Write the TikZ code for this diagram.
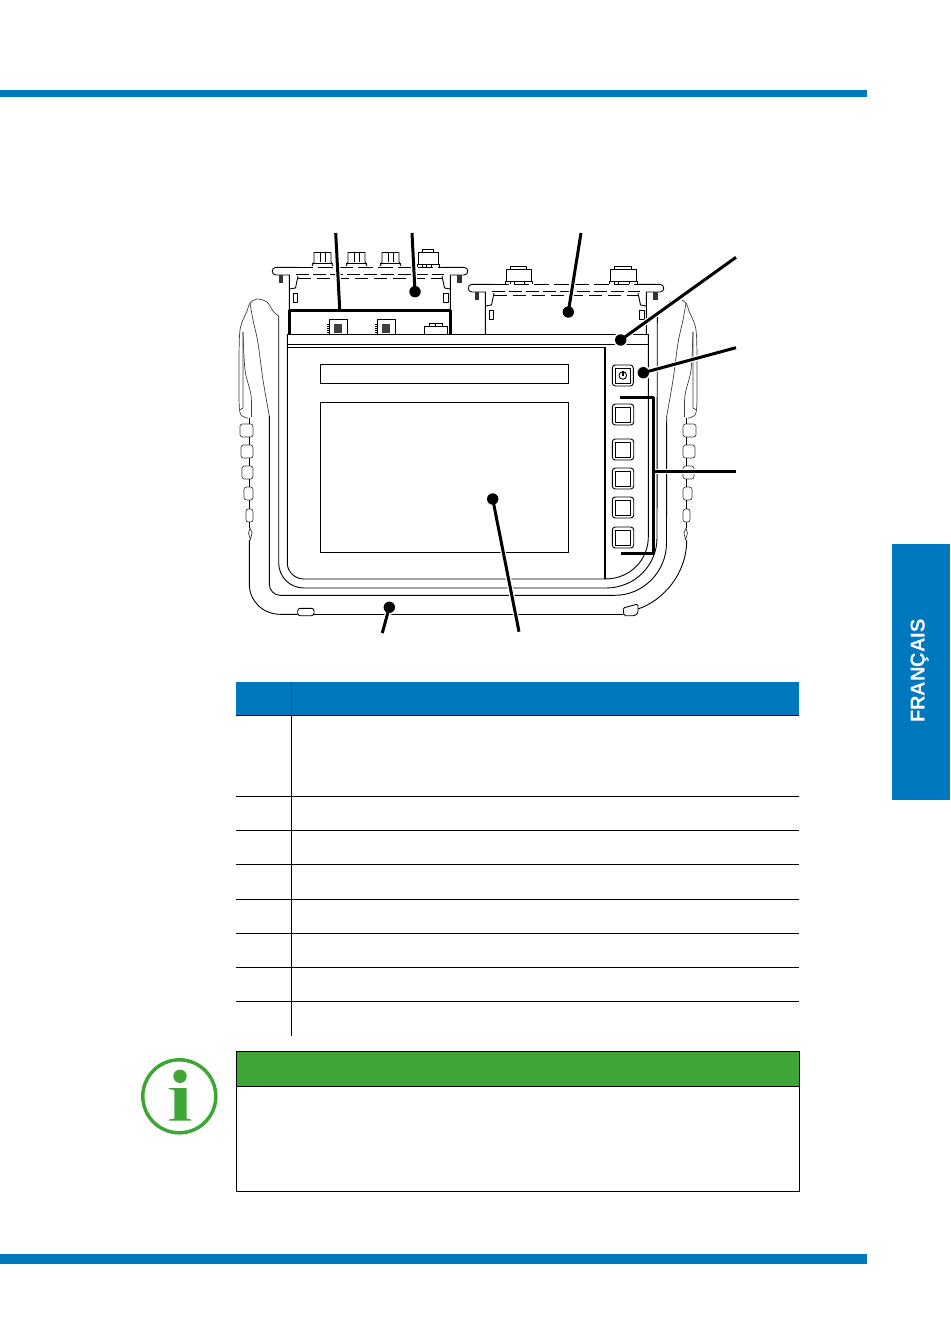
\documentclass[tikz,border=0pt]{standalone}
\usepackage{fontspec}
\setmainfont{Liberation Sans}
\definecolor{tabblue}{HTML}{0078BF}
\definecolor{notegreen}{HTML}{3FA535}
\tikzset{
 thinl/.style={line width=0.9pt},
 greyl/.style={line width=0.7pt,draw=black!75},
 leader/.style={line width=3pt},
 halo/.style={line width=5.5pt,draw=white},
 rowl/.style={line width=0.8pt},
 screwf/.style={fill=black!80},
}
% one knob on the top edge
\newcommand{\knob}[1]{
 \draw[thinl] (#1,266)--(#1+2,262)--(#1+2,252.5)--(#1+19,252.5)--(#1+19,262)--(#1+21,266);
 \draw[thinl] (#1+8,252.5)--(#1+8,262) (#1+13,252.5)--(#1+13,262) (#1,263)--(#1+21,263);
}
% one socket on the top edge
\newcommand{\jack}[3]{
 \draw[thinl] (#1+5,#2+3.5)--(#1+5,#2)--(#1+#3-6,#2)--(#1+#3-6,#2+3.5);
 \draw[thinl] (#1+1,#2+15)--(#1+1,#2+3.5)--(#1+#3-1,#2+3.5)--(#1+#3-1,#2+15);
 \draw[thinl] (#1,#2+18)--(#1,#2+15)--(#1+#3,#2+15)--(#1+#3,#2+18);
 \draw[thinl] (#1+5,#2+15)--(#1+5,#2+18) (#1+9,#2+15)--(#1+9,#2+18) (#1+#3-8,#2+15)--(#1+#3-8,#2+18);
}
% one socket on the inner panel
\newcommand{\port}[1]{
 \draw[thinl] (#1,334)--(#1,319.5)--(#1+18,319.5)--(#1+18,334);
 \fill[black!75] (#1+5,324) rectangle (#1+13,333);
 \draw[line width=1.6pt,dash pattern=on 1.2pt off 0.8pt] (#1-1,324)--(#1-1,333) (#1+18.5,324)--(#1+18.5,333);
}
\begin{document}
\begin{tikzpicture}[x=1pt,y=-1pt,line join=round,line cap=butt]
 \useasboundingbox (0,0) rectangle (950,1343);
 \fill[white] (0,0) rectangle (950,1343);
 \fill[tabblue] (0,90) rectangle (867,97);
 \fill[tabblue] (0,1254) rectangle (867,1264);
 \fill[tabblue] (892,544) rectangle (950,800);
 \node[rotate=90,text=white,font=\fontsize{20}{20}\selectfont\bfseries] (tablabel) at (919.8,671) {FRANÇAIS};
 % modules
 \foreach \dx/\dy in {0/0,196/17}{
 \begin{scope}[shift={(\dx,\dy)}]
 \draw[thinl] (298,267.3)--(276,267.3) .. controls (271,267.3) and (271,275) .. (276,275)--(289.3,275)--(289.3,{334-\dy});
 \draw[thinl] (442,267.3)--(464,267.3) .. controls (469,267.3) and (469,275) .. (464,275)--(450.3,275)--(450.3,{334-\dy});
 \draw[thinl,dash pattern=on 15pt off 5pt] (298,267.3)--(442,267.3);
 \draw[line width=1.5pt,dash pattern=on 13pt off 4pt] (296,274.6)--(444,274.6);
 \draw[thinl,dash pattern=on 13pt off 6pt] (298,278.2)--(442,278.2);
 \draw[thinl] (298,276)--(295.5,288)--(289.3,289) (442,276)--(444.5,288)--(450.3,289);
 \fill[screwf] (278.5,275) rectangle (283,282.5);
 \fill[screwf] (457,275) rectangle (461.5,282.5);
 \draw[thinl] (293,293) rectangle (297.5,302.5);
 \draw[thinl] (443.5,293) rectangle (448,302.5);
 \end{scope}}
 \foreach \x in {312,346,380}
 \knob{\x}
 \jack{417}{249}{22}
 \jack{505}{266}{27}
 \jack{609.5}{266}{28}
 \port{329}
 \port{377}
 \draw[thinl] (424,334)--(424,326)--(429,326)--(429,323)--(442,323)--(442,326)--(447,326)--(447,334);
 \draw[thinl] (429,326)--(442,326) (435,323)--(435,326);
 % front panel
 \draw[thinl] (287.3,334.3)--(648.5,334.3);
 \draw[thinl] (287.3,344.3)--(648.5,344.3);
 \draw[thinl] (287.3,347.3)--(605,347.3);
 \draw[thinl] (287.3,334.3)--(287.3,563) .. controls (287.3,572) and (295,579) .. (304,579)--(605,579) .. controls (630,579) and (648.3,560) .. (648.3,537)--(648.3,334.3);
 \draw[line width=1.4pt] (605,347.3)--(605,579);
 \draw[thinl] (278.7,316)--(278.7,563) .. controls (278.7,577) and (290,588) .. (304,588)--(606,588) .. controls (635,588) and (657,565) .. (657,538)--(657.3,316);
 \draw[thinl] (269.3,416)--(269.3,584) .. controls (269.3,590) and (274,595.3) .. (280,595.3)--(615,595.3) .. controls (643,595.3) and (666.5,572) .. (666.5,543)--(666.7,416);
 \draw[thinl] (249.3,540)--(249.3,584) .. controls (249.3,601) and (263,614.3) .. (280,614.3)--(297.7,614.3);
 \draw[thinl] (314,614.3)--(623,614.3);
 \draw[thinl] (638,609) .. controls (662,601) and (686.7,575) .. (686.7,540);
 \draw[thinl,rounded corners=2.5pt] (297.7,608.3) rectangle (314,615.7);
 \draw[thinl,rounded corners=1.5pt] (623,608)--(638,604)--(638,613)--(635,615.7)--(624,615.7)--cycle;
 % screen
 \draw[thinl] (320.3,364.3) rectangle (568.7,383.3);
 \draw[thinl] (320.3,402.5) rectangle (568.7,552.3);
 % handles
 \foreach \sx/\sk in {0/1,936/-1}{
 \begin{scope}[shift={(\sx,0)},xscale=\sk]
 \draw[greyl] plot[smooth] coordinates {(278.7,316) (273,311) (267,302) (257,299) (250,303) (247,311) (240,330) (239,370) (239.5,410) (244,417) (248,418)};
 \draw[greyl] plot[smooth] coordinates {(250,303) (253,320) (258,343) (263,380) (269.3,416)};
 \draw[greyl] (243,332)--(243,408)--(239.5,410);
 \draw[greyl] plot[smooth] coordinates {(243,332) (245,370) (251,395) (251.5,417)};
 \foreach \bx/\bw/\by in {240/13/424,241/12/445,242/11/466,244/9/487,246/7/509}
 \draw[greyl,rounded corners=2.5pt] (\bx,\by) rectangle (\bx+\bw,\by+13);
 \draw[greyl] (248.5,533)--(250,528)--(252,533)--(250.5,540)--cycle;
 \draw[thinl] (249.5,418)--(249.5,424) (249.5,437)--(249.5,445) (249.5,458)--(249.5,466) (249.5,479)--(249.5,487) (249.5,500)--(249.5,509) (249.5,522)--(249.5,528);
 \end{scope}}
 % buttons
 \draw[thinl,rounded corners=3pt] (612.3,365) rectangle (633.3,386);
 \draw[thinl] (615,368) rectangle (630.7,383);
 \draw[line width=0.9pt] (622.8,375.5) circle (3.8);
 \draw[line width=1.6pt] (622.8,370.8)--(622.8,375.5);
 \foreach \by in {404,439,468,497,527}{
 \draw[thinl,rounded corners=3pt] (612.3,\by) rectangle (633.7,\by+21);
 \draw[thinl] (615.3,\by+3) rectangle (630.7,\by+18);
 }
 % table
 \fill[tabblue] (236,682) rectangle (799,715);
 \draw[line width=0.8pt,tabblue!75!black] (291,682)--(291,715);
 \foreach \y in {715,796,830,864,899,933,967,1001}
 \draw[rowl] (236,\y+0.5)--(799,\y+0.5);
 \draw[rowl] (291,715)--(291,1035.5);
 % note
 \fill[notegreen] (236.5,1051.5) rectangle (799.5,1086);
 \draw[rowl] (236.5,1051.5) rectangle (799.5,1191);
 \draw[rowl] (236.5,1086)--(799.5,1086);
 \draw[notegreen,line width=3.5pt] (179.3,1096.3) circle (36.5);
 \fill[notegreen] (180,1076.3) circle (6.7);
 \fill[notegreen] (168.5,1088)--(186.7,1088)--(186.7,1118.5)--(191,1119.5)--(191,1120.5)--(169,1120.5)--(169,1119.5)--(174.3,1118.5)--(174.3,1090)--(168.5,1089)--cycle;
 % leaders
 \coordinate (endA) at (335.7,233);
 \coordinate (dotA) at (339.7,309);
 \coordinate (endB) at (412,233);
 \coordinate (dotB) at (415,291.7);
 \coordinate (endC) at (581,233);
 \coordinate (dotC) at (568.3,312);
 \coordinate (endD) at (736,257.3);
 \coordinate (dotD) at (620.7,340);
 \coordinate (endE) at (736,347.7);
 \coordinate (dotE) at (643.3,372.7);
 \coordinate (endF) at (736,471.3);
 \coordinate (dotF) at (653.3,471.3);
 \coordinate (endG) at (519,631.7);
 \coordinate (dotG) at (492.7,499);
 \coordinate (endH) at (382.3,633);
 \coordinate (dotH) at (389.3,607.3);
 \foreach \a/\b in {endA/dotA,endB/dotB,endC/dotC,endD/dotD,endE/dotE,endF/dotF,endG/dotG,endH/dotH}
 \draw[halo] (\a)--(\b);
 \foreach \d in {dotB,dotC,dotD,dotE,dotG,dotH}
 \fill[white] (\d) circle (7.5);
 \foreach \a/\b in {endA/dotA,endB/dotB,endC/dotC,endD/dotD,endE/dotE,endF/dotF,endG/dotG,endH/dotH}
 \draw[leader] (\a)--(\b);
 \foreach \d in {dotB,dotC,dotD,dotE,dotG,dotH}
 \fill (\d) circle (5.7);
 \draw[leader] (620,397)--(653.5,397)--(653.5,553)--(621,553);
 \draw[leader] (289.8,333.5)--(289.8,310)--(450.5,310)--(450.5,333.5);
\end{tikzpicture}
\end{document}
